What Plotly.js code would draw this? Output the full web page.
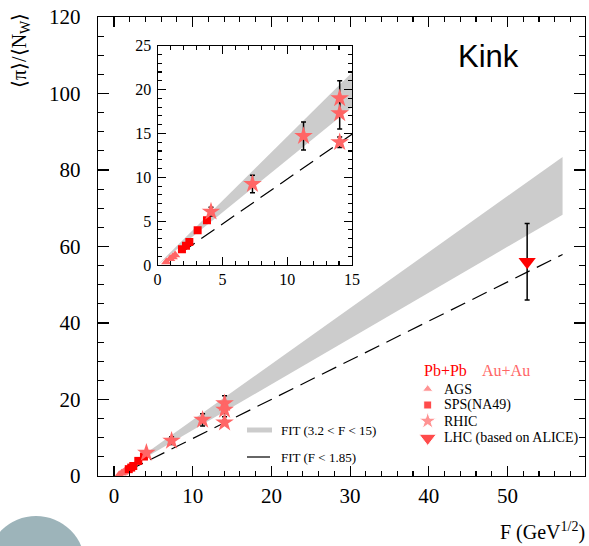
<!DOCTYPE html>
<html><head><meta charset="utf-8">
<script src="https://cdn.plot.ly/plotly-3.0.1.min.js"></script>
<style>html,body{margin:0;padding:0;background:#fff}</style>
</head><body><div id="chart" style="width:589px;height:546px"></div>
<script>
// ---- data ----
// AGS (Au+Au)
const agsF = [0.67, 0.97, 1.17, 1.35];
const agsY = [0.35, 0.70, 0.90, 1.15];
// SPS NA49 (Pb+Pb)
const spsF = [1.88, 2.19, 2.45, 3.09, 3.81];
const spsY = [1.79, 2.20, 2.62, 3.95, 5.09];
// RHIC (Au+Au)
const rhicF = [4.12, 7.32, 11.26, 14.05, 14.05, 14.05];
const rhicY = [6.08, 9.23, 14.7, 19.0, 17.3, 14.0];
const rhicErr = [0.5, 1.0, 1.6, 2.0, 1.8, 0.6];
// LHC (based on ALICE)
const lhcF = [52.5];
const lhcY = [56];
const lhcErr = [10];
// FIT (3.2 < F < 15) band edges
const bandF = [0, 57];
const bandUpper = [0, 83.4];
const bandLower = [0, 68.3];
// FIT (F < 1.85) line
const fitF = [1.85, 57];
const fitY = [1.45, 57.9];

// ---- styling ----
const PINK = '#ff6666', RED = '#ff0000', GRAY = '#cccccc';
const SERIF = 'Liberation Serif';
const W = 589, H = 546;
const M = {l: 98, r: 4, t: 17, b: 70};
const PW = W - M.l - M.r, PH = H - M.t - M.b;
const px = x => (x - M.l) / PW;
const py = y => (H - M.b - y) / PH;

function series(xa, ya) {
  const bandX = bandF.concat(bandF.slice().reverse());
  const bandY = bandUpper.concat(bandLower.slice().reverse());
  return [
    {x: bandX, y: bandY, xaxis: xa, yaxis: ya, type: 'scatter', mode: 'lines',
     fill: 'toself', fillcolor: GRAY, line: {width: 0, color: GRAY}, hoverinfo: 'skip'},
    {x: fitF, y: fitY, xaxis: xa, yaxis: ya, type: 'scatter', mode: 'lines',
     line: {color: '#000', width: 1.2, dash: '16px,8px'}},
    {x: agsF, y: agsY, xaxis: xa, yaxis: ya, type: 'scatter', mode: 'markers',
     marker: {symbol: 'triangle-up', size: 9, color: PINK}},
    {x: spsF, y: spsY, xaxis: xa, yaxis: ya, type: 'scatter', mode: 'markers',
     marker: {symbol: 'square', size: 8, color: RED}},
    {x: rhicF, y: rhicY, xaxis: xa, yaxis: ya, type: 'scatter', mode: 'markers',
     error_y: {type: 'data', array: rhicErr, color: '#000', thickness: 1.5, width: 2.5},
     marker: {symbol: 'star', size: 14, color: PINK}},
    {x: lhcF, y: lhcY, xaxis: xa, yaxis: ya, type: 'scatter', mode: 'markers',
     error_y: {type: 'data', array: lhcErr, color: '#000', thickness: 1.5, width: 2.5},
     marker: {symbol: 'triangle-down', size: 15, color: RED}}
  ];
}

// legend keys (positions in page pixels)
const legendKeys = {
  x: [427.7, 427.7, 427.7, 427.7],
  y: [389, 405, 421, 438],
  symbol: ['triangle-up', 'square', 'star', 'triangle-down'],
  size: [9, 8, 13, 15],
  color: [PINK, RED, PINK, RED]
};

const traces = series('x', 'y').concat(series('x2', 'y2'));
traces.push({x: legendKeys.x, y: legendKeys.y, xaxis: 'x3', yaxis: 'y3', type: 'scatter',
  mode: 'markers', marker: {symbol: legendKeys.symbol, size: legendKeys.size, color: legendKeys.color}});

function axis(o) {
  return Object.assign({showgrid: false, zeroline: false, showline: true, linecolor: '#000',
    linewidth: 1.3, mirror: 'allticks', ticks: 'inside', tickcolor: '#000', tickwidth: 1.1,
    tickfont: {family: SERIF, size: 21, color: '#000'}, fixedrange: true}, o);
}

function ann(text, x, y, size, color, xanchor, extra) {
  return Object.assign({text: text, xref: 'paper', yref: 'paper', x: px(x), y: py(y),
    xanchor: xanchor || 'left', yanchor: 'middle', showarrow: false,
    font: {family: SERIF, size: size, color: color || '#000'}}, extra || {});
}

const layout = {
  width: W, height: H, margin: M, showlegend: false,
  paper_bgcolor: '#fff', plot_bgcolor: '#fff',
  xaxis: axis({range: [-2.03, 59.85], dtick: 10, tick0: 0, ticklen: 10, ticklabelstandoff: 0,
    minor: {dtick: 2, ticklen: 5, ticks: 'inside', tickcolor: '#000'}}),
  yaxis: axis({range: [0, 120], dtick: 20, tick0: 0, ticklen: 11, ticklabelstandoff: 12,
    minor: {dtick: 5, ticklen: 6, ticks: 'inside', tickcolor: '#000'}}),
  xaxis2: axis({domain: [px(157.6), px(352)], anchor: 'y2', range: [0, 15], dtick: 5, tick0: 0,
    ticklen: 8, tickfont: {family: SERIF, size: 16, color: '#000'}, linewidth: 1.1, ticklabelstandoff: 0,
    minor: {dtick: 1, ticklen: 4, ticks: 'inside', tickcolor: '#000'}}),
  yaxis2: axis({domain: [py(265), py(45.7)], anchor: 'x2', range: [0, 25], dtick: 5, tick0: 0,
    ticklen: 8, tickfont: {family: SERIF, size: 16, color: '#000'}, linewidth: 1.1, ticklabelstandoff: 2,
    minor: {dtick: 1, ticklen: 4, ticks: 'inside', tickcolor: '#000'}}),
  xaxis3: {overlaying: 'x', range: [M.l, W - M.r], visible: false, fixedrange: true},
  yaxis3: {overlaying: 'y', range: [H - M.b, M.t], visible: false, fixedrange: true},
  shapes: [
    {type: 'line', xref: 'paper', yref: 'paper', x0: px(247), x1: px(272), y0: py(430), y1: py(430),
     line: {color: GRAY, width: 5}},
    {type: 'line', xref: 'paper', yref: 'paper', x0: px(247), x1: px(270), y0: py(457), y1: py(457),
     line: {color: '#000', width: 1.2}},
    {type: 'circle', xref: 'paper', yref: 'paper', x0: px(-13), x1: px(85), y0: py(614), y1: py(516),
     fillcolor: '#9db4ba', line: {width: 0}, layer: 'below'}
  ],
  annotations: [
    ann('Kink', 488, 56, 31, '#000', 'center', {font: {family: 'Liberation Sans', size: 31, color: '#000'}}),
    ann('⟨π⟩/⟨N<sub>W</sub>⟩', 20, 51, 20, '#000', 'center', {textangle: -90}),
    ann('F (GeV<sup>1/2</sup>)', 587, 531, 20, '#000', 'right'),
    ann('FIT (3.2 &lt; F &lt; 15)', 279, 430, 13),
    ann('FIT (F &lt; 1.85)', 279, 457, 13),
    ann('Pb+Pb', 422, 370, 16, RED),
    ann('Au+Au', 480, 370, 16, PINK),
    ann('AGS', 442, 389, 14),
    ann('SPS(NA49)', 442, 405, 14),
    ann('RHIC', 442, 421, 14),
    ann('LHC (based on ALICE)', 442, 438, 14)
  ]
};

Plotly.newPlot('chart', traces, layout, {displayModeBar: false, staticPlot: true});
</script></body></html>
